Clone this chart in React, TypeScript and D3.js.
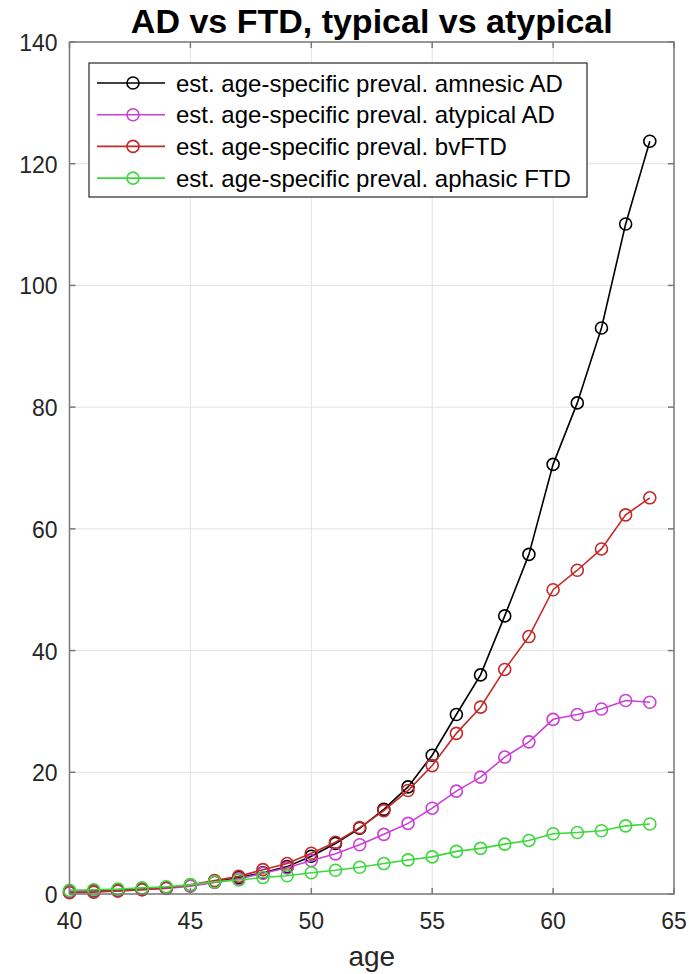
import { useEffect } from 'react'
import * as d3 from 'd3'

const ages = d3.range(40, 65)
const amnesicAD = [0.4, 0.5, 0.6, 0.8, 1.0, 1.4, 2.0, 2.7, 3.5, 4.5, 6.2, 8.3, 10.8, 13.9, 17.6, 22.8, 29.5, 36.0, 45.7, 55.8, 70.6, 80.7, 93.0, 110.1, 123.7]
const atypicalAD = [0.3, 0.4, 0.5, 0.7, 0.9, 1.3, 1.9, 2.5, 3.4, 4.3, 5.5, 6.6, 8.1, 9.8, 11.6, 14.1, 16.9, 19.2, 22.5, 25.0, 28.7, 29.5, 30.4, 31.8, 31.5]
const bvFTD = [0.2, 0.3, 0.5, 0.7, 1.0, 1.5, 2.2, 2.9, 4.0, 5.0, 6.7, 8.5, 10.9, 13.7, 17.0, 21.1, 26.4, 30.7, 36.9, 42.3, 50.0, 53.2, 56.7, 62.3, 65.1]
const aphasicFTD = [0.6, 0.7, 0.8, 1.0, 1.2, 1.5, 2.0, 2.3, 2.7, 3.0, 3.5, 3.9, 4.4, 5.0, 5.6, 6.1, 7.0, 7.5, 8.2, 8.8, 9.9, 10.1, 10.4, 11.2, 11.5]

const seriesNames = [
  'est. age-specific preval. amnesic AD',
  'est. age-specific preval. atypical AD',
  'est. age-specific preval. bvFTD',
  'est. age-specific preval. aphasic FTD',
]
const seriesColors = ['#000000', '#cc3fd6', '#c42a2a', '#3cd83c']
const seriesValues = [amnesicAD, atypicalAD, bvFTD, aphasicFTD]

const xTicks = [40, 45, 50, 55, 60, 65]
const yTicks = [0, 20, 40, 60, 80, 100, 120, 140]

const W = 689
const H = 974
const font = '"Liberation Sans", Arial, Helvetica, sans-serif'

export default function App() {
  useEffect(() => {
    document.body.style.margin = '0'
  }, [])

  const x = d3.scaleLinear().domain([40, 65]).range([69.5, 674])
  const y = d3.scaleLinear().domain([0, 140]).range([894, 42])
  const line = d3.line<number>().x((_, i) => x(ages[i])).y(d => y(d))

  const [x0, x1] = x.range()
  const [y0, y1] = y.range()
  const tickLen = 6
  const axisColor = '#7a7a7a'
  const textColor = '#262626'

  // legend box
  const legX = 89
  const legY = 63
  const legW = 498
  const legH = 134
  const rowH = 31.7

  return (
    <svg width={W} height={H} style={{ display: 'block', background: '#fff' }} fontFamily={font}>
      {/* grid */}
      {xTicks.map(t => (
        <line key={'gx' + t} x1={x(t)} x2={x(t)} y1={y1} y2={y0} stroke="#e3e3e3" strokeWidth={1} />
      ))}
      {yTicks.map(t => (
        <line key={'gy' + t} x1={x0} x2={x1} y1={y(t)} y2={y(t)} stroke="#e3e3e3" strokeWidth={1} />
      ))}

      {/* series */}
      {seriesValues.map((vals, si) => (
        <g key={'s' + si}>
          <path d={line(vals) || ''} fill="none" stroke={seriesColors[si]} strokeWidth={1.6} />
          {vals.map((v, i) => (
            <circle key={i} cx={x(ages[i])} cy={y(v)} r={6} fill="none" stroke={seriesColors[si]} strokeWidth={1.6} />
          ))}
        </g>
      ))}

      {/* axes box */}
      <rect x={x0} y={y1} width={x1 - x0} height={y0 - y1} fill="none" stroke={axisColor} strokeWidth={1.5} />
      {xTicks.map(t => (
        <g key={'tx' + t}>
          <line x1={x(t)} x2={x(t)} y1={y0} y2={y0 - tickLen} stroke={axisColor} strokeWidth={1.5} />
          <line x1={x(t)} x2={x(t)} y1={y1} y2={y1 + tickLen} stroke={axisColor} strokeWidth={1.5} />
          <text x={x(t)} y={y0 + 35} textAnchor="middle" fontSize={23} fill={textColor}>{t}</text>
        </g>
      ))}
      {yTicks.map(t => (
        <g key={'ty' + t}>
          <line x1={x0} x2={x0 + tickLen} y1={y(t)} y2={y(t)} stroke={axisColor} strokeWidth={1.5} />
          <line x1={x1} x2={x1 - tickLen} y1={y(t)} y2={y(t)} stroke={axisColor} strokeWidth={1.5} />
          <text x={57.5} y={y(t) + 9} textAnchor="end" fontSize={23} fill={textColor}>{t}</text>
        </g>
      ))}

      {/* labels */}
      <text x={(x0 + x1) / 2} y={966} textAnchor="middle" fontSize={28} fill={textColor}>age</text>
      <text x={(x0 + x1) / 2} y={33} textAnchor="middle" fontSize={34} fontWeight="bold" fill="#000">
        AD vs FTD, typical vs atypical
      </text>

      {/* legend */}
      <rect x={legX} y={legY} width={legW} height={legH} fill="#fff" stroke="#262626" strokeWidth={1.2} />
      {seriesNames.map((name, i) => {
        const cy = legY + 20 + i * rowH
        return (
          <g key={'l' + i}>
            <line x1={legX + 8} x2={legX + 76} y1={cy} y2={cy} stroke={seriesColors[i]} strokeWidth={1.6} />
            <circle cx={legX + 44} cy={cy} r={6} fill="none" stroke={seriesColors[i]} strokeWidth={1.6} />
            <text x={legX + 87} y={cy + 8.5} fontSize={24} fill="#000">{name}</text>
          </g>
        )
      })}
    </svg>
  )
}
